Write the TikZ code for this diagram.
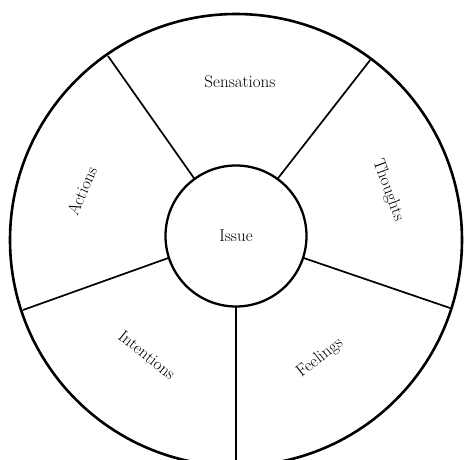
\documentclass[tikz,border=0pt]{standalone}
\usepackage{fontspec}
\begin{document}
\begin{tikzpicture}[x=1pt,y=-1pt,
  lbl/.style={font=\fontsize{17}{20}\selectfont, inner sep=0pt},
  ring/.style={line width=2.6pt},
  hub/.style={draw, circle, line width=2.3pt, minimum size=141pt, inner sep=0pt, outer sep=0pt, font=\fontsize{17}{20}\selectfont},
  spoke/.style={line width=1.7pt}]
\useasboundingbox (0,0) rectangle (464,460);
\clip (0,0) rectangle (464,460);
\coordinate (oc) at (236,240);
\node[hub] (issue) at (236,236) {Issue};
\coordinate (ul) at (108,56);
\coordinate (ur) at (371,59);
\coordinate (rr) at (450,308);
\coordinate (ll) at (23,310);
\coordinate (bb) at (236,470);
\draw[spoke] (issue.126) -- (ul);
\draw[spoke] (issue.54) -- (ur);
\draw[spoke] (issue.-18) -- (rr);
\draw[spoke] (issue.198) -- (ll);
\draw[spoke] (issue.270) -- (bb);
\draw[ring] (oc) circle[radius=226pt];
\node[lbl] (sens) at (240,82) {Sensations};
\node[lbl, rotate=-70] (thou) at (388,190) {Thoughts};
\node[lbl, rotate=67] (act) at (82,191) {Actions};
\node[lbl, rotate=-39] (inte) at (147,355) {Intentions};
\node[lbl, rotate=38] (feel) at (320,358) {Feelings};
\end{tikzpicture}
\end{document}
